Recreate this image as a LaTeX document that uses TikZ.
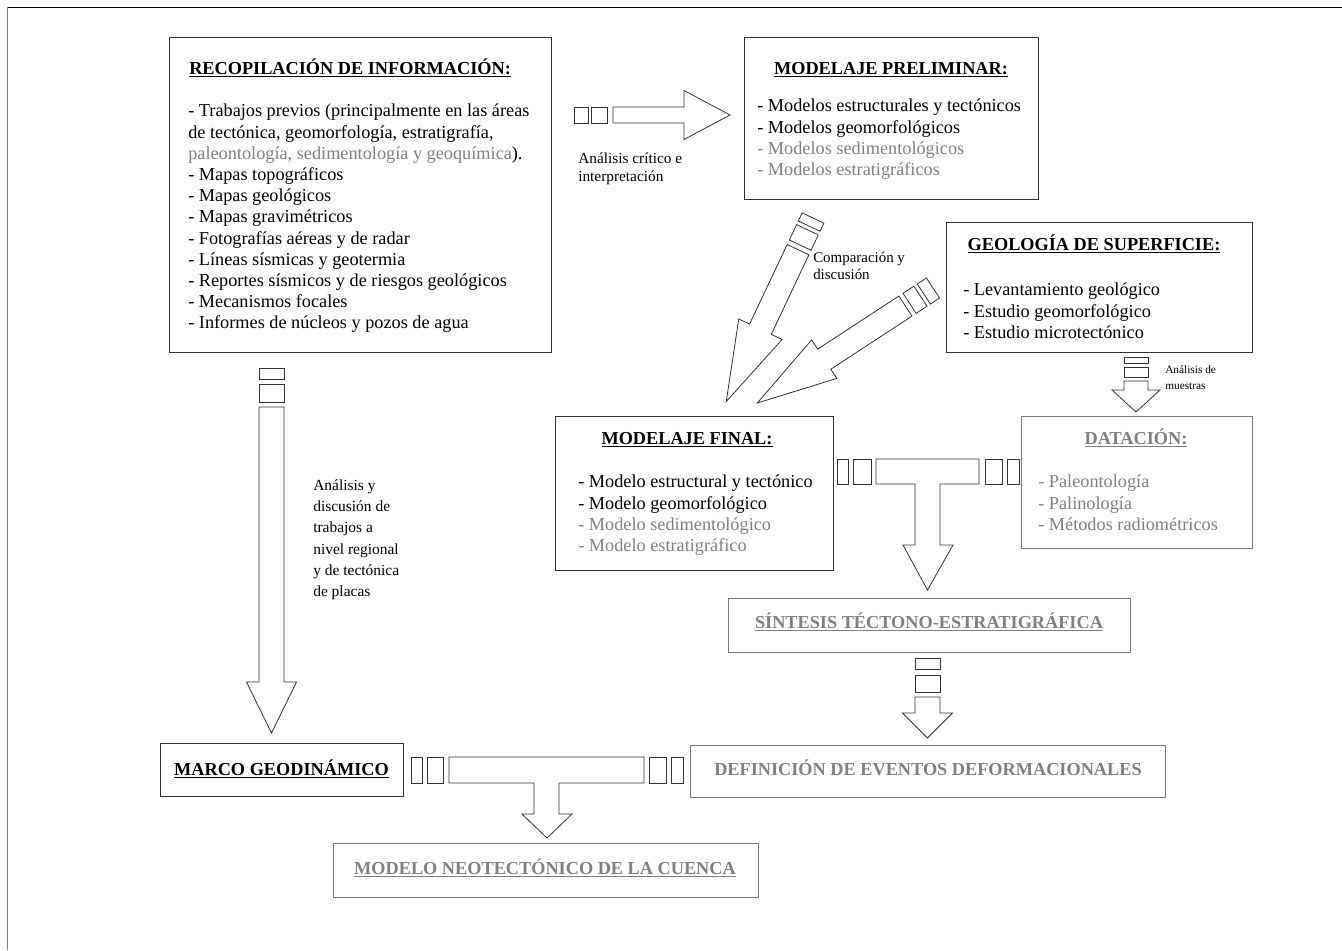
\documentclass[tikz,border=0pt]{standalone}
\usepackage{fontspec}
\setmainfont{Liberation Serif}
\usepackage{tikz}
\usepackage{xcolor}
\usetikzlibrary{fit}
\definecolor{GreyText}{HTML}{808080}
\definecolor{BoxLine}{HTML}{333333}
\definecolor{BoxGrey}{HTML}{7A7A7A}

% block arrow along local x: length, half shaft, half head, head length,
% end of first block, start and end of second block, start of shaft
\newcommand{\fatarrow}[8]{%
  \draw[fat] (0,-#2) rectangle (#5,#2);
  \draw[fat] (#6,-#2) rectangle (#7,#2);
  \draw[fat] (#8,-#2) -- ({#1-#4},-#2) -- ({#1-#4},-#3) -- (#1,0)
    -- ({#1-#4},#3) -- ({#1-#4},#2) -- (#8,#2) -- cycle;
}

\begin{document}
\begin{tikzpicture}[x=0.75pt, y=-0.75pt,
    panel/.style={draw=BoxLine, line width=0.75pt, inner sep=0pt},
    greypanel/.style={draw=BoxGrey, line width=0.75pt, inner sep=0pt},
    fat/.style={draw=black!80, line width=0.6pt, fill=white},
    ttl/.style={inner sep=0pt, font=\fontsize{13.7}{16}\selectfont\bfseries},
    body/.style={inner sep=0pt, align=left, font=\fontsize{13.7}{15.9}\selectfont},
    lbl/.style={inner sep=0pt, align=left, font=\fontsize{11.2}{13}\selectfont}]
    \useasboundingbox (0,0) rectangle (1342,950);

    % Frame
    \draw[black] (7,7) -- (1342,7);
    \draw[gray] (7,7) -- (7,950);

    % Recopilacion
    \node[panel, fit={(169,37) (551,352)}] (recop) {};
    \node[ttl, anchor=base west] (recopT) at (189,74) {\underline{RECOPILACIÓN DE INFORMACIÓN:}};
    \node[body, anchor=north west] (recopB) at (188,104) {- Trabajos previos (principalmente en las áreas\\
      de tectónica, geomorfología, estratigrafía,\\
      {\color{GreyText}paleontología, sedimentología y geoquímica}).\\
      - Mapas topográficos\\
      - Mapas geológicos\\
      - Mapas gravimétricos\\
      - Fotografías aéreas y de radar\\
      - Líneas sísmicas y geotermia\\
      - Reportes sísmicos y de riesgos geológicos\\
      - Mecanismos focales\\
      - Informes de núcleos y pozos de agua};

    % Modelaje preliminar
    \node[panel, fit={(744,37) (1038,199)}] (prelim) {};
    \node[ttl, anchor=base] (prelimT) at (891,74) {\underline{MODELAJE PRELIMINAR:}};
    \node[body, anchor=north west] (prelimB) at (757,99) {- Modelos estructurales y tectónicos\\
      - Modelos geomorfológicos\\
      {\color{GreyText}- Modelos sedimentológicos}\\
      {\color{GreyText}- Modelos estratigráficos}};

    % Geologia de superficie
    \node[panel, fit={(946,222) (1252,352)}] (geo) {};
    \node[ttl, anchor=base] (geoT) at (1094,250) {\underline{GEOLOGÍA DE SUPERFICIE:}};
    \node[body, anchor=north west] (geoB) at (963,283) {- Levantamiento geológico\\
      - Estudio geomorfológico\\
      - Estudio microtectónico};

    % Modelaje final
    \node[panel, fit={(555,416) (833,570)}] (final) {};
    \node[ttl, anchor=base] (finalT) at (687,444) {\underline{MODELAJE FINAL:}};
    \node[body, anchor=north west] (finalB) at (578,475) {- Modelo estructural y tectónico\\
      - Modelo geomorfológico\\
      {\color{GreyText}- Modelo sedimentológico}\\
      {\color{GreyText}- Modelo estratigráfico}};

    % Datacion
    \node[greypanel, fit={(1021,416) (1252,548)}] (datac) {};
    \node[ttl, anchor=base, text=GreyText] (datacT) at (1136,444) {\underline{DATACIÓN:}};
    \node[body, anchor=north west, text=GreyText] (datacB) at (1038,475) {- Paleontología\\
      - Palinología\\
      - Métodos radiométricos};

    % Sintesis
    \node[greypanel, fit={(728,598) (1130,652)}] (sint) {};
    \node[ttl, anchor=base, text=GreyText] (sintT) at (929,628) {\underline{SÍNTESIS TÉCTONO-ESTRATIGRÁFICA}};

    % Eventos deformacionales
    \node[greypanel, fit={(690,745) (1165,797)}] (defin) {};
    \node[ttl, anchor=base, text=GreyText] (definT) at (928,775) {DEFINICIÓN DE EVENTOS DEFORMACIONALES};

    % Marco geodinamico
    \node[panel, fit={(160,743) (403,796)}] (marco) {};
    \node[ttl, anchor=base] (marcoT) at (281.5,775) {\underline{MARCO GEODINÁMICO}};

    % Modelo neotectonico
    \node[greypanel, fit={(333,843) (758,897)}] (neo) {};
    \node[ttl, anchor=base, text=GreyText] (neoT) at (545,874) {\underline{MODELO NEOTECTÓNICO DE LA CUENCA}};

    % Block arrows
    \begin{scope}[shift={(574,115)}]
        \fatarrow{156}{8}{24.5}{46}{14}{17}{33}{39}
    \end{scope}
    \begin{scope}[shift={(271.5,368)}, rotate=-90]
        \fatarrow{365}{12.5}{25}{51}{11}{16}{34}{39}
    \end{scope}
    \begin{scope}[shift={(813,218)}, rotate=-115.3]
        \fatarrow{203}{12}{24}{80}{9}{13}{30}{35}
    \end{scope}
    \begin{scope}[shift={(933,288)}, rotate=-146.8]
        \fatarrow{210}{12}{23}{80}{11}{15}{28}{33}
    \end{scope}
    \begin{scope}[shift={(1136,357)}, rotate=-90]
        \fatarrow{55}{12}{24}{22}{6}{10}{20}{24}
    \end{scope}
    \begin{scope}[shift={(927.5,658)}, rotate=-90]
        \fatarrow{80}{12.5}{25}{25}{11}{17}{34}{39}
    \end{scope}

    % T joints
    \draw[fat] (837,459) rectangle (848,484);
    \draw[fat] (853,459) rectangle (871,484);
    \draw[fat] (876,459) -- (979,459) -- (979,484) -- (940,484) -- (940,545) -- (953,545)
        -- (927.5,590) -- (903,545) -- (915,545) -- (915,484) -- (876,484) -- cycle;
    \draw[fat] (985,459) rectangle (1002,484);
    \draw[fat] (1007,459) rectangle (1019,484);

    \draw[fat] (411,757) rectangle (422,783);
    \draw[fat] (427,757) rectangle (443,783);
    \draw[fat] (449,757) -- (644,757) -- (644,783) -- (559,783) -- (559,814) -- (572,814)
        -- (547,838) -- (522,814) -- (534,814) -- (534,783) -- (449,783) -- cycle;
    \draw[fat] (649,757) rectangle (666,783);
    \draw[fat] (671,757) rectangle (683,783);

    % Labels
    \node[lbl, anchor=north west, font=\fontsize{11.5}{13.5}\selectfont] (critL) at (578,153) {Análisis crítico e\\interpretación};
    \node[lbl, anchor=north west] (compL) at (813,252) {Comparación y\\discusión};
    \node[lbl, anchor=north west, font=\fontsize{11.6}{16}\selectfont] (regL) at (313,479) {Análisis y\\discusión de\\trabajos a\\nivel regional\\y de tectónica\\de placas};
    \node[lbl, anchor=north west, font=\fontsize{8.5}{12}\selectfont] (muesL) at (1165,365) {Análisis de\\muestras};
\end{tikzpicture}
\end{document}
